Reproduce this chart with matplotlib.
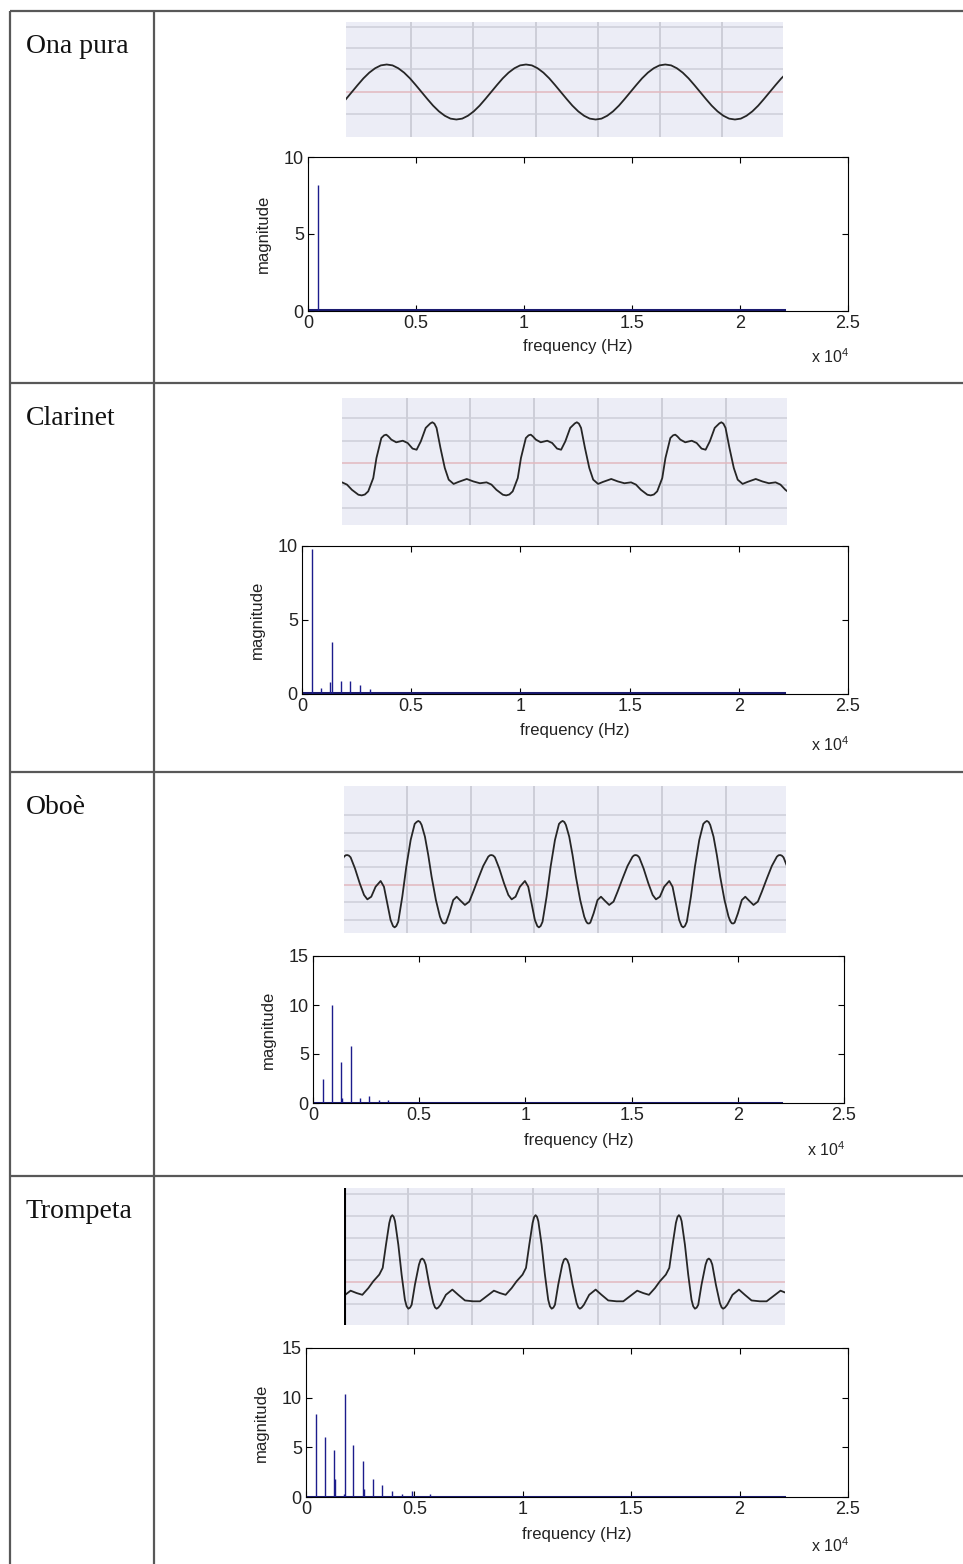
import numpy as np
import matplotlib.pyplot as plt

W, H = 963, 1564

plt.rcParams['font.family'] = ['Liberation Sans', 'DejaVu Sans']

instruments = ["Ona pura", "Clarinet", "Oboè", "Trompeta"]

# one period of each waveform:
# phase (0..1 of a period) and level (in grid divisions above the centre line)
sine_phase = [0, 0.042, 0.083, 0.125, 0.167, 0.208, 0.25, 0.292, 0.333, 0.375, 0.417, 0.458,
              0.5, 0.542, 0.583, 0.625, 0.667, 0.708, 0.75, 0.792, 0.833, 0.875, 0.917, 0.958, 1.0]
sine_level = [1.25, 1.21, 1.08, 0.88, 0.62, 0.32, 0.0, -0.32, -0.62, -0.88, -1.08, -1.21,
              -1.25, -1.21, -1.08, -0.88, -0.62, -0.32, 0.0, 0.32, 0.62, 0.88, 1.08, 1.21, 1.25]

clar_phase = [0, 0.022, 0.045, 0.080, 0.102, 0.136, 0.155, 0.170, 0.185, 0.205, 0.239, 0.284,
              0.318, 0.352, 0.380, 0.409, 0.443, 0.475, 0.489, 0.503, 0.518, 0.545, 0.575,
              0.602, 0.636, 0.670, 0.727, 0.773, 0.818, 0.864, 0.898, 0.932, 0.977, 1.0]
clar_level = [-1.44, -1.40, -1.26, -0.67, 0.22, 1.11, 1.23, 1.26, 1.18, 1.04, 0.92, 0.99,
              0.89, 0.64, 0.59, 0.96, 1.56, 1.76, 1.81, 1.75, 1.56, 0.67, -0.22,
              -0.74, -0.93, -0.84, -0.71, -0.82, -0.90, -0.86, -0.96, -1.19, -1.41, -1.44]

oboe_phase = [0, 0.012, 0.023, 0.046, 0.069, 0.092, 0.122, 0.150, 0.163, 0.173, 0.183, 0.192,
              0.215, 0.242, 0.266, 0.293, 0.323, 0.353, 0.381, 0.416, 0.450, 0.485, 0.497,
              0.508, 0.519, 0.531, 0.561, 0.594, 0.624, 0.647, 0.674, 0.704, 0.739, 0.762,
              0.785, 0.808, 0.825, 0.836, 0.848, 0.861, 0.889, 0.917, 0.947, 0.975, 0.988, 1.0]
oboe_level = [3.66, 3.60, 3.43, 2.76, 1.71, 0.48, -0.86, -1.81, -2.08, -2.19, -2.20, -2.15,
              -1.62, -0.86, -0.67, -0.90, -1.14, -0.95, -0.38, 0.38, 1.09, 1.62, 1.70,
              1.71, 1.68, 1.58, 0.95, 0.10, -0.57, -0.82, -0.67, -0.10, 0.23, -0.10,
              -1.05, -2.00, -2.35, -2.42, -2.34, -2.10, -0.67, 1.05, 2.57, 3.49, 3.60, 3.66]

trump_phase = [0, 0.010, 0.019, 0.042, 0.065, 0.088, 0.100, 0.112, 0.124, 0.135, 0.158, 0.186,
               0.198, 0.209, 0.221, 0.233, 0.258, 0.286, 0.298, 0.309, 0.321, 0.337, 0.374,
               0.419, 0.460, 0.507, 0.565, 0.612, 0.658, 0.709, 0.751, 0.791, 0.833, 0.867,
               0.909, 0.933, 0.956, 0.979, 0.990, 1.0]
trump_level = [3.08, 3.00, 2.80, 1.72, 0.34, -0.82, -1.12, -1.23, -1.18, -1.05, -0.12, 0.80,
               1.03, 1.08, 1.01, 0.80, -0.12, -0.97, -1.17, -1.23, -1.18, -1.05, -0.59,
               -0.35, -0.59, -0.85, -0.89, -0.89, -0.66, -0.40, -0.51, -0.59, -0.28, 0.03,
               0.34, 0.65, 1.72, 2.72, 3.00, 3.08]

# spectral lines: frequency (Hz) and magnitude
ona_freq = [440]
ona_mag = [8.2]
clar_freq = [446, 872, 1279, 1357, 1764, 2190, 2674, 3120]
clar_mag = [9.8, 0.4, 0.8, 3.5, 0.85, 0.85, 0.6, 0.34]
oboe_freq = [455, 871, 1306, 1360, 1781, 2197, 2632, 3108, 3543]
oboe_mag = [2.4, 10.0, 4.2, 0.5, 5.8, 0.5, 0.75, 0.35, 0.35]
trump_freq = [446, 872, 1298, 1357, 1740, 1802, 2190, 2616, 2680, 3101, 3527, 3953, 4419, 4884, 5717]
trump_mag = [8.35, 6.0, 4.7, 1.85, 0.3, 10.4, 5.25, 3.65, 0.8, 1.8, 1.2, 0.65, 0.33, 0.6, 0.3]
spectrum_end_hz = 22050
floor_mag = 0.05

freq_ticks = [0, 5000, 10000, 15000, 20000, 25000]
freq_tick_labels = ['0', '0.5', '1', '1.5', '2', '2.5']
mag_ticks = [[0, 5, 10], [0, 5, 10], [0, 5, 10, 15], [0, 5, 10, 15]]

waves = [(sine_phase, sine_level), (clar_phase, clar_level),
         (oboe_phase, oboe_level), (trump_phase, trump_level)]
spectra = [(ona_freq, ona_mag), (clar_freq, clar_mag),
           (oboe_freq, oboe_mag), (trump_freq, trump_mag)]

# layout in pixels
row_tops = [11, 383, 772, 1176]
wave_boxes = [(346, 22, 783, 137), (342, 398, 787, 525), (344, 786, 786, 933), (344, 1188, 785, 1325)]
wave_vgrid = [[411, 473, 536, 598, 660, 722], [407, 470, 534, 598, 662, 726],
              [407, 471, 534, 598, 662, 726], [408, 472, 533, 598, 660, 723]]
wave_hgrid = [[27, 48, 69, 114], [418, 441, 485, 508],
              [815, 833, 851, 867, 902, 920], [1194, 1216, 1238, 1260, 1304]]
wave_center = [92, 463, 885, 1282]
wave_div = [22, 22.5, 17.5, 21.7]
wave_start = [386.7, 361.7, 418.3, 392.3]
wave_period = [139.3, 144.5, 144.3, 143.3]
spec_boxes = [(308, 157, 848, 311), (302, 546, 848, 694), (313, 956, 844, 1103), (306, 1348, 848, 1497)]
spec_xlabel_y = [347, 731, 1140, 1535]
spec_exp_y = [357, 745, 1150, 1546]

fig = plt.figure(figsize=(W / 100, H / 100), dpi=100)
bg = fig.add_axes([0, 0, 1, 1])
bg.set_xlim(0, W)
bg.set_ylim(H, 0)
bg.axis('off')

table_col = '#585858'
bg.vlines([10, 153.5], 11, H, colors=table_col, lw=1.6)
bg.hlines(row_tops, 10, W, colors=table_col, lw=1.6)


def px_axes(l, t, r, b):
    return fig.add_axes([l / W, 1 - b / H, (r - l) / W, (b - t) / H])


for i, name in enumerate(instruments):
    bg.text(26, row_tops[i] + 42, name, family=['Liberation Serif', 'DejaVu Serif'],
            fontsize=20, va='baseline', ha='left', color='#111111')

    # waveform panel
    l, t, r, b = wave_boxes[i]
    ax = px_axes(l, t, r, b)
    ax.set_xlim(l, r)
    ax.set_ylim(b, t)
    ax.set_facecolor('#ECEDF6')
    for s in ax.spines.values():
        s.set_visible(False)
    ax.set_xticks([])
    ax.set_yticks([])
    ax.vlines(wave_vgrid[i], t, b, colors='#C4C5D0', lw=1.1)
    ax.hlines(wave_hgrid[i], l, r, colors='#CDCED8', lw=1.1)
    ax.hlines(wave_center[i], l, r, colors='#E2B8BE', lw=1.1)
    phase, level = waves[i]
    xs, ys = [], []
    for k in range(-2, 5):
        xs.append(wave_start[i] + (np.array(phase[:-1]) + k) * wave_period[i])
        ys.append(wave_center[i] - np.array(level[:-1]) * wave_div[i])
    ax.plot(np.concatenate(xs), np.concatenate(ys), color='#262626', lw=1.3,
            solid_joinstyle='round')
    if i == 3:
        ax.vlines(l + 0.5, t, b, colors='black', lw=1.5)

    # spectrum panel
    l, t, r, b = spec_boxes[i]
    ax = px_axes(l, t, r, b)
    freqs, mags = spectra[i]
    ax.plot([0, spectrum_end_hz], [floor_mag, floor_mag], color='#1B1B70', lw=2.2)
    ax.vlines(freqs, 0, mags, colors='#1C1C8C', lw=1.0)
    ax.set_xlim(0, 25000)
    ax.set_ylim(0, mag_ticks[i][-1])
    ax.set_xticks(freq_ticks)
    ax.set_xticklabels(freq_tick_labels)
    ax.set_yticks(mag_ticks[i])
    ax.tick_params(direction='in', top=True, right=True, length=4, width=0.8,
                   labelsize=13, pad=3, colors='black', labelcolor='#222222')
    for s in ax.spines.values():
        s.set_linewidth(0.8)
    ax.set_xlabel('frequency (Hz)', fontsize=12, color='#222222')
    ax.xaxis.label.set_va('center')
    ax.xaxis.set_label_coords(0.5, -(spec_xlabel_y[i] - b) / (b - t))
    ax.set_ylabel('magnitude', fontsize=12, color='#222222')
    ax.yaxis.label.set_va('center')
    ax.yaxis.set_label_coords(-45 / (r - l), 0.5)
    bg.text(r + 1, spec_exp_y[i], r'x 10$^{\mathregular{4}}$', fontsize=11.5,
            ha='right', va='center', color='#222222')

fig.savefig('out.png', dpi=100)
